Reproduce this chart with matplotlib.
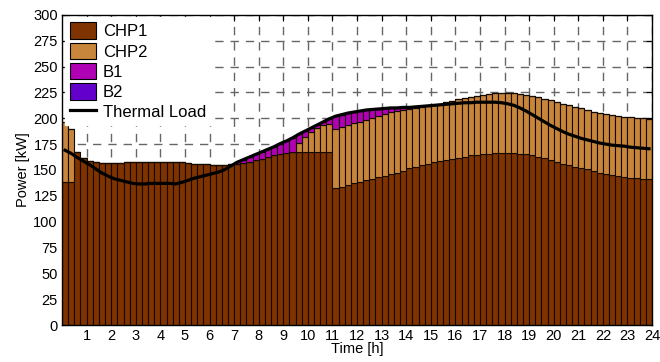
import numpy as np
import matplotlib
matplotlib.use('Agg')
import matplotlib.pyplot as plt
from matplotlib.patches import Patch
from matplotlib.lines import Line2D

plt.rcParams['font.family'] = ['Liberation Sans', 'DejaVu Sans']

# 15-min steps over one day (96 slots), powers in kW
chp1 = [138, 138, 167, 162, 159, 157.5, 157, 156.5,
        157, 157, 157.5, 157.5,
        158, 158, 158, 158, 158, 158, 157.5, 157.5,
        156.5, 156, 156, 155.5, 155, 155, 155, 155.5,
        156, 157, 158, 159.5, 161, 162.5, 164, 165.5, 166.5, 167,
        167, 167, 167, 167, 167, 167,
        132.5, 134, 135.5, 137, 138.5, 140, 141.5, 143, 144.5, 146, 147.5, 149,
        151.5, 153, 154.5, 156, 157.5, 159, 160, 161, 162, 163, 164, 164.5,
        165, 165.5, 166, 166, 166, 166, 165.5, 165, 164, 163, 161.5, 159.5,
        157.5, 156, 154.5, 153, 152, 150.5, 149, 147.5, 146, 145, 144, 143.5,
        142.5, 142, 141.5, 141]

chp2 = [58, 52] + [0] * 36 + \
       [9.5, 15, 20, 24, 26, 27,
        57, 57.5, 57.5, 58, 58, 58.5, 58.5, 59, 59.5, 60, 59.5, 58.5,
        57, 56.5, 56, 55.5, 55, 55, 55.5, 56, 56.5, 56.5, 56.5, 57,
        57.5, 58, 58, 58, 58, 58, 57.5, 57.5, 57.5, 57.5, 57.5, 58,
        58, 58, 58, 58, 57.5, 57.5, 57.5, 57.5, 58, 58, 58, 58,
        58.5, 58.5, 58.5, 58.5]

b1 = [0] * 28 + \
     [1.5, 3, 4.5, 5.5, 6.5, 7.5, 8.5, 10, 11.5, 14,
      8, 5.5, 3.5, 2.5, 3.5, 5.5,
      12.5, 12, 12, 11, 10.5, 9.5, 8.5, 7, 5.5, 4, 3, 3, 2, 1.5] + [0] * 38

b2 = [0] * 96

thermal_load = [169, 166, 162, 158.5, 155, 151, 147, 144,
                141.5, 140, 138.5, 137, 136.5, 136.5, 137, 137,
                137, 137, 136.5, 138, 140, 142, 143.5, 145,
                146.5, 148, 150.5, 154, 157.5, 160, 162.5, 165,
                167.5, 170, 172.5, 175.5, 178, 181, 184.5, 187.5,
                190.5, 193.5, 196.5, 199.5, 202, 203.5, 205, 206,
                207, 208, 208.5, 209, 209.5, 210, 210, 210.5,
                210.5, 211, 211.5, 212, 212.5, 213, 213.5, 214,
                214.5, 215, 215, 215.5, 215.5, 215.5, 215.5, 215,
                214, 212.5, 210, 207, 203.5, 200, 196.5, 193,
                190, 187, 184.5, 182.5, 180.5, 179, 177.5, 176,
                175, 174, 173.5, 173, 172, 171.5, 171, 170.5]

hours = np.arange(96) / 4.0 + 0.125

c_chp1 = '#7f3300'
c_chp2 = '#c8863c'
c_b1 = '#b000b4'
c_b2 = '#6400cc'

fig = plt.figure(figsize=(6.6, 3.62), dpi=100)
ax = fig.add_axes([0.094, 0.102, 0.894, 0.857])

chp1 = np.array(chp1)
chp2 = np.array(chp2)
b1 = np.array(b1)
b2 = np.array(b2)

kw = dict(width=0.25, edgecolor='#140a00', linewidth=0.8, zorder=2)
ax.bar(hours, chp1, color=c_chp1, **kw)
ax.bar(hours, chp2, bottom=chp1, color=c_chp2, **kw)
ax.bar(hours, b1, bottom=chp1 + chp2, color=c_b1, **kw)
ax.bar(hours, b2, bottom=chp1 + chp2 + b1, color=c_b2, **kw)
ax.plot(hours, thermal_load, color='k', lw=2.3, zorder=4)

ax.set_xlim(0, 24)
ax.set_ylim(0, 300)
ax.set_xticks(range(1, 25))
ax.set_yticks(range(0, 301, 25))
ax.tick_params(direction='in', top=True, right=True, length=4, width=0.8,
               labelsize=10.5, pad=3, colors='k')
for s in ax.spines.values():
    s.set_linewidth(1.0)
    s.set_zorder(5)
ax.set_axisbelow(True)
ax.grid(True, color='#666666', linestyle=(0, (6, 5)), linewidth=1.0)
ax.set_xlabel('Time [h]', fontsize=10.5, labelpad=-1)
ax.set_ylabel('Power [kW]', fontsize=10.5, labelpad=2)

handles = [Patch(facecolor=c_chp1, edgecolor='k', lw=0.8, label='CHP1'),
           Patch(facecolor=c_chp2, edgecolor='k', lw=0.8, label='CHP2'),
           Patch(facecolor=c_b1, edgecolor='k', lw=0.8, label='B1'),
           Patch(facecolor=c_b2, edgecolor='k', lw=0.8, label='B2'),
           Line2D([0], [0], color='k', lw=2.3, label='Thermal Load')]
leg = ax.legend(handles=handles, loc='upper left', fontsize=12,
                frameon=True, fancybox=False, framealpha=1,
                edgecolor='white', borderaxespad=0.15, handlelength=1.6,
                handleheight=1.15, handletextpad=0.4, labelspacing=0.2,
                borderpad=0.3)
leg.set_zorder(6)

plt.savefig('out.png', dpi=100)
